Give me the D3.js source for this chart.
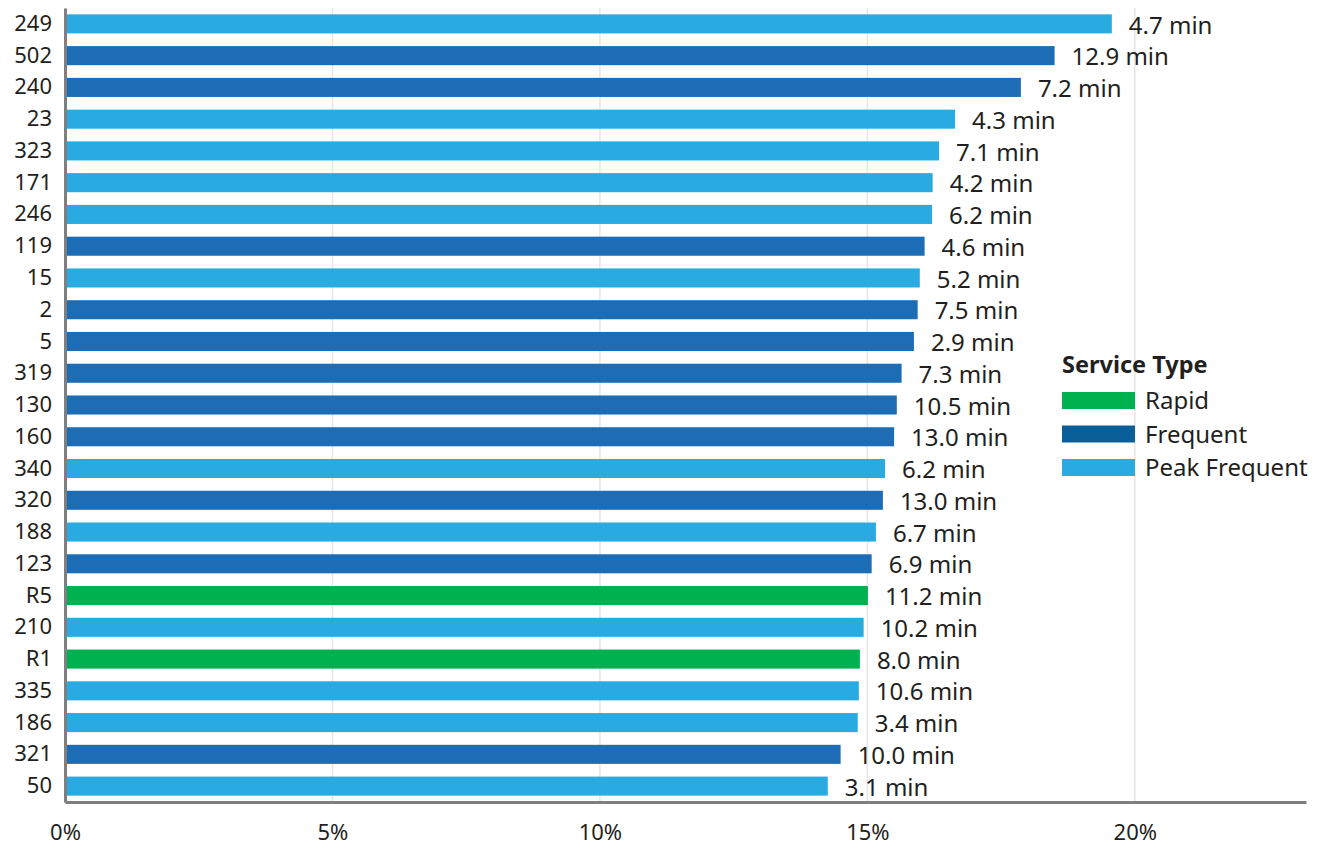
<!DOCTYPE html>
<html>
<head>
<meta charset="utf-8">
<script src="https://cdn.jsdelivr.net/npm/d3@7"></script>
<style>
  body { margin: 0; background: #fff; }
  text { font-family: "Noto Sans", "Open Sans", sans-serif; fill: #231f20; }
</style>
</head>
<body>
<div id="chart"></div>
<script>
// route names, top to bottom
var routes = ["249","502","240","23","323","171","246","119","15","2","5","319","130","160","340","320","188","123","R5","210","R1","335","186","321","50"];
// bar values (%)
var shares = [19.57,18.50,17.87,16.64,16.34,16.22,16.21,16.07,15.98,15.94,15.87,15.64,15.55,15.50,15.33,15.29,15.16,15.08,15.01,14.93,14.86,14.84,14.82,14.50,14.26];
// label next to each bar
var minutes = ["4.7 min","12.9 min","7.2 min","4.3 min","7.1 min","4.2 min","6.2 min","4.6 min","5.2 min","7.5 min","2.9 min","7.3 min","10.5 min","13.0 min","6.2 min","13.0 min","6.7 min","6.9 min","11.2 min","10.2 min","8.0 min","10.6 min","3.4 min","10.0 min","3.1 min"];
var types = ["Peak Frequent","Frequent","Frequent","Peak Frequent","Peak Frequent","Peak Frequent","Peak Frequent","Frequent","Peak Frequent","Frequent","Frequent","Frequent","Frequent","Frequent","Peak Frequent","Frequent","Peak Frequent","Frequent","Rapid","Peak Frequent","Rapid","Peak Frequent","Peak Frequent","Frequent","Peak Frequent"];
var serviceTypes = ["Rapid","Frequent","Peak Frequent"];
var xTicks = [0, 5, 10, 15, 20];

var W = 1320, H = 846;
var margin = {top: 8, right: 14, bottom: 44, left: 65},
  width = W - margin.left - margin.right,
  height = H - margin.top - margin.bottom;

var color = d3.scaleOrdinal()
  .domain(serviceTypes)
  .range(["#00b14f", "#1c6db5", "#29abe2"]);
var legendColor = d3.scaleOrdinal()
  .domain(serviceTypes)
  .range(["#00b14f", "#0b5f98", "#29abe2"]);

var svg = d3.select("#chart").append("svg")
  .attr("width", W).attr("height", H)
  .append("g")
  .attr("transform", "translate(" + margin.left + "," + margin.top + ")");

var x = d3.scaleLinear().domain([0, 23.2]).range([0, width]);
var y = d3.scaleBand().domain(routes).range([0, height]).paddingInner(0.4).paddingOuter(0.2);

var data = routes.map(function(r, i) {
  return {route: r, share: shares[i], label: minutes[i], type: types[i]};
});

// vertical gridlines
svg.selectAll(".grid")
  .data(xTicks.slice(1)).enter()
  .append("line")
  .attr("x1", function(d) { return x(d); })
  .attr("x2", function(d) { return x(d); })
  .attr("y1", 0).attr("y2", height)
  .style("stroke", "#e6e6e6").style("stroke-width", 1.5);

// bars
svg.selectAll(".bar")
  .data(data).enter()
  .append("rect")
  .attr("x", x(0))
  .attr("y", function(d) { return y(d.route); })
  .attr("width", function(d) { return x(d.share) - x(0); })
  .attr("height", y.bandwidth())
  .style("fill", function(d) { return color(d.type); });

// minute labels
svg.selectAll(".val")
  .data(data).enter()
  .append("text")
  .attr("x", function(d) { return x(d.share) + 17; })
  .attr("y", function(d) { return y(d.route) + y.bandwidth() / 2 + 1; })
  .attr("dy", "0.36em")
  .style("font-size", "24px")
  .text(function(d) { return d.label; });

// y axis
var yAxis = svg.append("g").call(d3.axisLeft(y).tickSize(0).tickPadding(13));
yAxis.select(".domain").style("stroke", "#7f7f7f").style("stroke-width", 3);
yAxis.selectAll("text").style("font-size", "22px").style("font-family", "Noto Sans, sans-serif").style("fill", "#231f20");

// x axis
var xAxis = svg.append("g")
  .attr("transform", "translate(0," + height + ")")
  .call(d3.axisBottom(x).tickValues(xTicks).tickSize(0).tickPadding(22)
    .tickFormat(function(d) { return d + "%"; }));
xAxis.select(".domain").style("stroke", "#7f7f7f").style("stroke-width", 3);
xAxis.selectAll("text").style("font-size", "22px").style("font-family", "Noto Sans, sans-serif").style("fill", "#231f20");

// legend
var legend = svg.append("g").attr("transform", "translate(" + (1062 - margin.left) + "," + (350 - margin.top) + ")");
legend.append("text")
  .attr("x", 0).attr("y", 23)
  .style("font-size", "23.5px").style("font-weight", "bold")
  .text("Service Type");
var items = legend.selectAll(".item")
  .data(serviceTypes).enter()
  .append("g")
  .attr("transform", function(d, i) { return "translate(0," + (42 + i * 33.5) + ")"; });
items.append("rect")
  .attr("width", 73).attr("height", 17)
  .style("fill", function(d) { return legendColor(d); });
items.append("text")
  .attr("x", 83).attr("y", 8.5).attr("dy", "0.36em")
  .style("font-size", "24px")
  .text(function(d) { return d; });
</script>
</body>
</html>
